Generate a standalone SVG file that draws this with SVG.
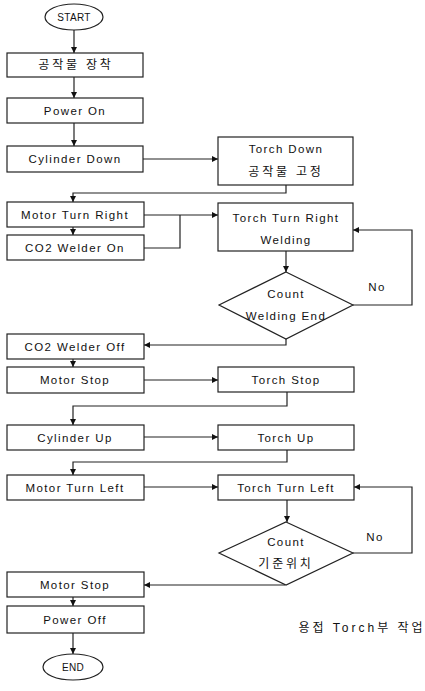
<svg xmlns="http://www.w3.org/2000/svg" width="425" height="691" viewBox="0 0 425 691">
<style>
.b{fill:#fff;stroke:#222;stroke-width:1.2}
.t{font-family:"Liberation Sans","Noto Sans CJK KR",sans-serif;font-size:11.5px;letter-spacing:1.4px;fill:#111;text-anchor:middle;dominant-baseline:central}
.k{font-size:12px;letter-spacing:2.8px}
.s{font-size:10px;letter-spacing:0.3px}
.c{fill:none;stroke:#222;stroke-width:1.2}
</style>
<defs>
<marker id="a" viewBox="0 0 10 10" refX="10" refY="5" markerWidth="7" markerHeight="6" orient="auto" markerUnits="userSpaceOnUse"><path d="M0,0L10,5L0,10z" fill="#111"/></marker>
</defs>
<rect width="425" height="691" fill="#fff"/>
<g id="connectors">
<path class="c" d="M74,30V53" marker-end="url(#a)"/>
<path class="c" d="M74,77V98" marker-end="url(#a)"/>
<path class="c" d="M74,123V146" marker-end="url(#a)"/>
<path class="c" d="M143,159H218" marker-end="url(#a)"/>
<path class="c" d="M286,185V193H73V202" marker-end="url(#a)"/>
<path class="c" d="M73,227V235" marker-end="url(#a)"/>
<path class="c" d="M144,215H218" marker-end="url(#a)"/>
<path class="c" d="M144,248H180V215"/>
<path class="c" d="M286,251V272" marker-end="url(#a)"/>
<path class="c" d="M353,305H412V230H353" marker-end="url(#a)"/>
<path class="c" d="M286,339V345H144" marker-end="url(#a)"/>
<path class="c" d="M73,359V367" marker-end="url(#a)"/>
<path class="c" d="M144,380H218" marker-end="url(#a)"/>
<path class="c" d="M287,392V406H73V425" marker-end="url(#a)"/>
<path class="c" d="M144,437H218" marker-end="url(#a)"/>
<path class="c" d="M287,450V462H73V475" marker-end="url(#a)"/>
<path class="c" d="M144,487H218" marker-end="url(#a)"/>
<path class="c" d="M287,500V522" marker-end="url(#a)"/>
<path class="c" d="M353,553H412V487H354" marker-end="url(#a)"/>
<path class="c" d="M285,585H144" marker-end="url(#a)"/>
<path class="c" d="M73,597V606" marker-end="url(#a)"/>
<path class="c" d="M73,633V654" marker-end="url(#a)"/>
</g>
<g id="start"><ellipse class="b" cx="74" cy="17" rx="29" ry="13"/><text class="t s" x="74" y="17">START</text></g>
<g id="n1"><rect class="b" x="7" y="53" width="136" height="24"/><text class="t k" x="76" y="65">공작물 장착</text></g>
<g id="n2"><rect class="b" x="7" y="98" width="136" height="25"/><text class="t" x="75" y="110.5">Power On</text></g>
<g id="n3"><rect class="b" x="7" y="146" width="136" height="26"/><text class="t" x="75" y="159">Cylinder Down</text></g>
<g id="n4"><rect class="b" x="218" y="137" width="135" height="48"/><text class="t" x="286" y="149">Torch Down</text><text class="t k" x="286" y="172">공작물 고정</text></g>
<g id="n5"><rect class="b" x="7" y="202" width="137" height="25"/><text class="t" x="75" y="214.5">Motor Turn Right</text></g>
<g id="n6"><rect class="b" x="7" y="235" width="137" height="25"/><text class="t" x="75" y="247.5">CO2 Welder On</text></g>
<g id="n7"><rect class="b" x="218" y="203" width="135" height="48"/><text class="t" x="286" y="218">Torch Turn Right</text><text class="t" x="286" y="240">Welding</text></g>
<g id="d1"><path class="b" d="M286,272L353,305L286,339L219,305Z"/><text class="t" x="286" y="294">Count</text><text class="t" x="286" y="316">Welding End</text></g>
<text class="t" x="377" y="287">No</text>
<g id="n8"><rect class="b" x="7" y="334" width="137" height="25"/><text class="t" x="75" y="346.5">CO2 Welder Off</text></g>
<g id="n9"><rect class="b" x="7" y="367" width="137" height="26"/><text class="t" x="75" y="380">Motor Stop</text></g>
<g id="n10"><rect class="b" x="218" y="367" width="136" height="25"/><text class="t" x="286" y="379.5">Torch Stop</text></g>
<g id="n11"><rect class="b" x="7" y="425" width="137" height="25"/><text class="t" x="75" y="437.5">Cylinder Up</text></g>
<g id="n12"><rect class="b" x="218" y="425" width="136" height="25"/><text class="t" x="286" y="437.5">Torch Up</text></g>
<g id="n13"><rect class="b" x="7" y="475" width="137" height="25"/><text class="t" x="75" y="487.5">Motor Turn Left</text></g>
<g id="n14"><rect class="b" x="218" y="475" width="136" height="25"/><text class="t" x="286" y="487.5">Torch Turn Left</text></g>
<g id="d2"><path class="b" d="M286,522L353,553L286,585L219,553Z"/><text class="t" x="286" y="542">Count</text><text class="t k" x="286" y="564">기준위치</text></g>
<text class="t" x="375" y="537">No</text>
<g id="n15"><rect class="b" x="7" y="572" width="137" height="25"/><text class="t" x="75" y="584.5">Motor Stop</text></g>
<g id="n16"><rect class="b" x="7" y="606" width="137" height="27"/><text class="t" x="75" y="619.5">Power Off</text></g>
<g id="end"><ellipse class="b" cx="73" cy="667" rx="30" ry="13"/><text class="t s" x="73" y="667">END</text></g>
<text class="t" x="362" y="628" style="font-size:12px;letter-spacing:3px">용접 Torch부 작업</text>
</svg>
